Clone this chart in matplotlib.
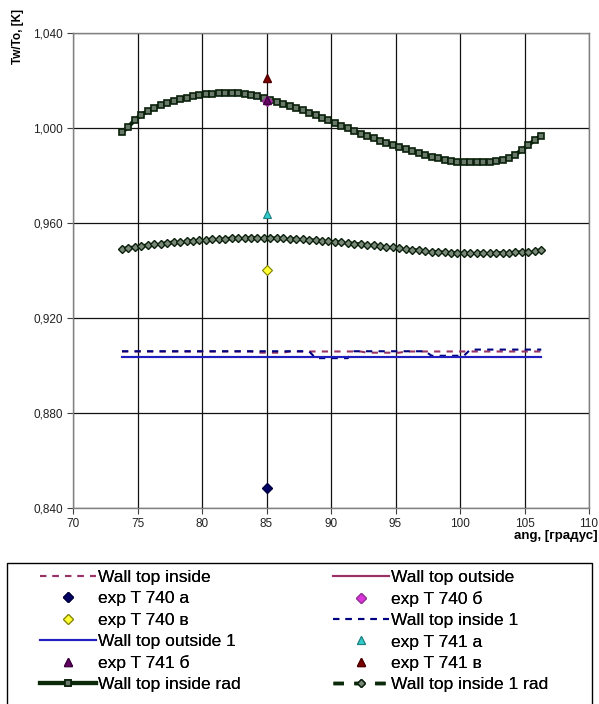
import numpy as np
import matplotlib
matplotlib.use("Agg")
import matplotlib.pyplot as plt
from matplotlib.patches import Rectangle
from matplotlib.ticker import FuncFormatter, MultipleLocator

plt.rcParams['font.family'] = ['Liberation Sans', 'DejaVu Sans']

# angle grid of the computed curves
ang = np.linspace(73.8, 106.3, 66)

# Wall top inside rad (squares)
inside_rad = [0.9982, 1.0005, 1.0035, 1.0055, 1.0072, 1.0085, 1.0097, 1.0106, 1.0115, 1.0122,
              1.0128, 1.0133, 1.0138, 1.0142, 1.0145, 1.0147, 1.0148, 1.0147, 1.0146, 1.0143,
              1.0139, 1.0133, 1.0126, 1.0119, 1.0111, 1.0103, 1.0094, 1.0085, 1.0075, 1.0065,
              1.0054, 1.0043, 1.0032, 1.0020, 1.0009, 0.9998, 0.9987, 0.9976, 0.9966, 0.9956,
              0.9946, 0.9937, 0.9928, 0.9919, 0.9910, 0.9902, 0.9894, 0.9886, 0.9879, 0.9873,
              0.9867, 0.9862, 0.9858, 0.9856, 0.9855, 0.9855, 0.9856, 0.9858, 0.9860, 0.9866,
              0.9875, 0.9888, 0.9908, 0.9928, 0.9950, 0.9968]

# Wall top inside 1 rad (diamonds)
inside1_rad = [0.9492, 0.9495, 0.9499, 0.9503, 0.9507, 0.9510, 0.9513, 0.9516, 0.9519, 0.9521,
               0.9523, 0.9525, 0.9527, 0.9529, 0.9531, 0.9533, 0.9534, 0.9535, 0.9536, 0.9537,
               0.9537, 0.9537, 0.9537, 0.9537, 0.9536, 0.9535, 0.9534, 0.9533, 0.9531, 0.9529,
               0.9527, 0.9525, 0.9523, 0.9521, 0.9518, 0.9516, 0.9513, 0.9511, 0.9508, 0.9506,
               0.9503, 0.9500, 0.9497, 0.9494, 0.9491, 0.9488, 0.9485, 0.9482, 0.9480, 0.9478,
               0.9476, 0.9475, 0.9474, 0.9473, 0.9473, 0.9473, 0.9473, 0.9473, 0.9474, 0.9474,
               0.9475, 0.9476, 0.9478, 0.9480, 0.9483, 0.9486]

wall_inside = [0.9059] * 21 + [0.9054] * 5 + [0.9059] * 12 + [0.9054] * 6 + [0.9059] * 22
wall_outside = [0.9037] * 66
wall_inside1 = [0.9060] * 30 + [0.9031] * 6 + [0.9060] * 12 + [0.9041] * 6 + [0.9067] * 12
wall_outside1 = [0.9037] * 66

# experimental points (all at 85 deg)
exp_ang = 85
exp_740a = 0.8484
exp_740b = 1.0112
exp_740v = 0.9402
exp_741a = 0.9638
exp_741b = 1.0118
exp_741v = 1.0211

fig = plt.figure(figsize=(5.99, 7.04), dpi=100)
ax = fig.add_axes([73 / 599, 1 - 508 / 704, 516 / 599, 475 / 704])

h = {}
h['wi'], = ax.plot(ang, wall_inside, color='#993366', ls=(0, (3, 3)), lw=1.5, label='Wall top inside')
h['wo'], = ax.plot(ang, wall_outside, color='#993366', ls='-', lw=1.5, label='Wall top outside')
h['wi1'], = ax.plot(ang, wall_inside1, color='#000080', ls=(0, (3, 3)), lw=1.5, label='Wall top inside 1')
h['wo1'], = ax.plot(ang, wall_outside1, color='#2020c0', ls='-', lw=1.5, label='Wall top outside 1')
h['ir'], = ax.plot(ang, inside_rad, color='#0a2a0a', lw=3, marker='s', ms=5,
                   mfc='#6a7a6a', mec='#0a200a', mew=1.2, label='Wall top inside rad')
h['i1r'], = ax.plot(ang, inside1_rad, color='#0a2a0a', ls=(0, (3, 3)), lw=2.5, marker='D', ms=4,
                    mfc='#7a887a', mec='#0a200a', mew=1.0, label='Wall top inside 1 rad')

h['a740'], = ax.plot([exp_ang], [exp_740a], ls='none', marker='D', ms=5, mfc='#000066', mec='#000040', label='exp T 740 а')
h['b740'], = ax.plot([exp_ang], [exp_740b], ls='none', marker='D', ms=5, mfc='#dd33dd', mec='#993399', label='exp T 740 б')
h['v740'], = ax.plot([exp_ang], [exp_740v], ls='none', marker='D', ms=5, mfc='#ffff33', mec='#808000', mew=0.8, label='exp T 740 в')
h['a741'], = ax.plot([exp_ang], [exp_741a], ls='none', marker='^', ms=6, mfc='#33cccc', mec='#208080', mew=0.8, label='exp T 741 а')
h['b741'], = ax.plot([exp_ang], [exp_741b], ls='none', marker='^', ms=6, mfc='#660066', mec='#400040', label='exp T 741 б')
h['v741'], = ax.plot([exp_ang], [exp_741v], ls='none', marker='^', ms=6, mfc='#800000', mec='#500000', label='exp T 741 в')

ax.set_xlim(70, 110)
ax.set_ylim(0.840, 1.040)
ax.xaxis.set_major_locator(MultipleLocator(5))
ax.yaxis.set_major_locator(MultipleLocator(0.04))
ax.yaxis.set_major_formatter(FuncFormatter(lambda v, p: f'{v:.3f}'.replace('.', ',')))
ax.grid(True, color='#111111', lw=0.9)
ax.set_axisbelow(True)
for s in ax.spines.values():
    s.set_color('#808080')
    s.set_linewidth(1)
ax.tick_params(direction='out', length=4, width=0.8, color='#404040', labelsize=8.5, labelcolor='#222222', pad=3)

fig.text(18 / 599, 1 - 37 / 704, 'Tw/To, [K]', rotation=90, ha='center', va='center', fontsize=8.5, fontweight='bold')
fig.text(598 / 599, 1 - 536 / 704, 'ang, [градус]', ha='right', va='center', fontsize=9.5, fontweight='bold')

# legend frame runs past the bottom edge, as in the reference
fig.patches.append(Rectangle((7 / 599, -0.05), 585 / 599, 0.05 + (704 - 563) / 704,
                             transform=fig.transFigure, fill=False, ec='#000000', lw=1))

# two columns in row order
left_keys = ['wi', 'a740', 'v740', 'wo1', 'b741', 'ir']
right_keys = ['wo', 'b740', 'wi1', 'a741', 'v741', 'i1r']
for keys, x0 in [(left_keys, 40), (right_keys, 333)]:
    hs = [h[k] for k in keys]
    lg = fig.legend(hs, [hh.get_label() for hh in hs], loc='upper left',
                    bbox_to_anchor=(x0 / 599, 1 - 570 / 704), fontsize=12.5, frameon=False,
                    handlelength=3.2, handletextpad=0.12, labelspacing=0.35,
                    borderpad=0, borderaxespad=0)
    fig.add_artist(lg)

fig.savefig('out.png', dpi=100)
